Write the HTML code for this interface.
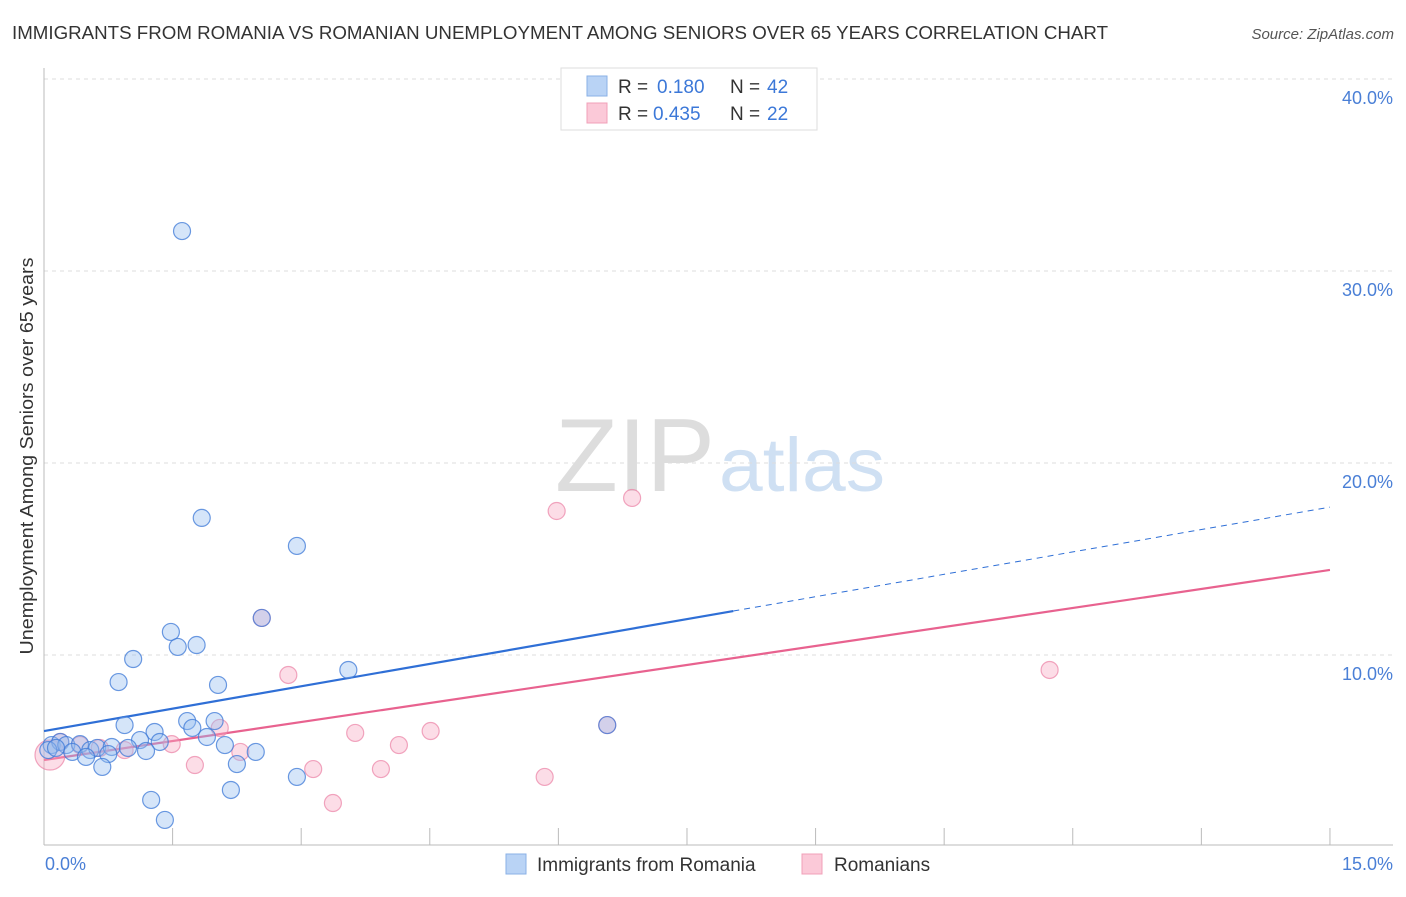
<!DOCTYPE html>
<html><head><meta charset="utf-8"><style>
body{margin:0;background:#fff;font-family:"Liberation Sans",sans-serif;}
svg text{font-family:"Liberation Sans",sans-serif;}
</style></head><body>
<svg id="c" width="1406" height="892">
<text x="12" y="39" font-size="18" fill="#333" textLength="1096" lengthAdjust="spacingAndGlyphs">IMMIGRANTS FROM ROMANIA VS ROMANIAN UNEMPLOYMENT AMONG SENIORS OVER 65 YEARS CORRELATION CHART</text>
<text x="1394" y="39" font-size="15" fill="#555" font-style="italic" text-anchor="end">Source: ZipAtlas.com</text>
<g>
<text x="555" y="491" font-size="104" fill="#ddd" font-family="Liberation Serif,serif" textLength="160" lengthAdjust="spacingAndGlyphs">ZIP</text>
<text x="719" y="491" font-size="76" fill="#cfe0f3" textLength="166" lengthAdjust="spacingAndGlyphs">atlas</text>
</g>
<g id="grid"></g>
<g id="axes"></g>
<g id="lines"></g>
<g id="pts"></g>
<text transform="translate(33,456) rotate(-90)" font-size="18" fill="#333" text-anchor="middle" textLength="397" lengthAdjust="spacingAndGlyphs">Unemployment Among Seniors over 65 years</text>
<text x="45" y="870" font-size="18" fill="#4a7fd6">0.0%</text>
<text x="1393" y="870" font-size="18" fill="#4a7fd6" text-anchor="end">15.0%</text>
<g>
<rect x="561" y="68" width="256" height="62" fill="#fff" stroke="#ddd"/>
<rect x="587" y="76" width="20" height="20" fill="#b9d3f5" stroke="#8ab0e6"/>
<rect x="587" y="103" width="20" height="20" fill="#fbc9d8" stroke="#f0a0b8"/>
<text x="618" y="93" font-size="19" fill="#333">R = </text><text x="657" y="93" font-size="19" fill="#3c78d8">0.180</text>
<text x="730" y="93" font-size="19" fill="#333">N = </text><text x="767" y="93" font-size="19" fill="#3c78d8">42</text>
<text x="618" y="120" font-size="19" fill="#333">R = </text><text x="653" y="120" font-size="19" fill="#3c78d8">0.435</text>
<text x="730" y="120" font-size="19" fill="#333">N = </text><text x="767" y="120" font-size="19" fill="#3c78d8">22</text>
</g>
<g>
<rect x="506" y="854" width="20" height="20" fill="#b9d3f5" stroke="#8ab0e6"/>
<text x="537" y="871" font-size="19" fill="#333">Immigrants from Romania</text>
<rect x="802" y="854" width="20" height="20" fill="#fbc9d8" stroke="#f0a0b8"/>
<text x="834" y="871" font-size="19" fill="#333">Romanians</text>
</g>
</svg>
<script>
const blueX=[1.61,1.84,2.95,1.48,1.56,1.78,1.04,0.87,2.03,3.55,0.94,1.67,1.99,1.29,1.73,1.90,1.12,2.11,1.35,2.47,0.09,0.19,0.26,0.42,0.33,0.54,0.62,0.79,0.98,1.19,0.49,0.75,0.68,2.25,2.95,2.18,1.25,1.41,2.54,6.57,0.05,0.14];
const blueY=[32.08,17.14,15.68,11.2,10.42,10.52,9.79,8.59,8.44,9.22,6.35,6.56,6.56,5.99,6.2,5.73,5.57,5.31,5.47,4.95,5.31,5.47,5.31,5.36,4.95,5.05,5.16,5.21,5.16,5.0,4.69,4.84,4.17,4.32,3.65,2.97,2.45,1.41,11.93,6.35,5.05,5.16];
const pinkX=[2.54,6.57,5.98,6.86,11.73,2.85,3.63,4.51,4.14,2.05,1.49,1.76,2.29,3.14,3.93,3.37,5.84,0.94,0.42,0.07,0.65,0.19];
const pinkY=[11.93,6.35,17.5,18.18,9.22,8.96,5.94,6.04,5.31,6.2,5.36,4.27,4.95,4.06,4.06,2.29,3.65,5.05,5.31,4.79,5.16,5.47];
const yTicks=[10,20,30,40];
const yTickLabels=["10.0%","20.0%","30.0%","40.0%"];
const xTicks=[0,1.5,3,4.5,6,7.5,9,10.5,12,13.5,15];
const blueTrend=[6.04,17.7];const blueSolidEnd=8.04;
const pinkTrend=[4.53,14.43];
const sx=v=>44+v*85.73, sy=v=>847-v*19.2;
const NS="http://www.w3.org/2000/svg";
function mk(p,t,a){const e=document.createElementNS(NS,t);for(const k in a)e.setAttribute(k,a[k]);document.getElementById(p).appendChild(e);return e;}
yTicks.forEach((t,i)=>{
 const l=mk('grid','line',{x1:44,x2:1393,y1:sy(t),y2:sy(t),stroke:'#ddd','stroke-dasharray':'4,4'});
 
 
 const tx=mk('grid','text',{x:1393,y:sy(t)+25,'font-size':18,fill:'#4a7fd6','text-anchor':'end'});tx.textContent=yTickLabels[i];
 
 
});
mk('axes','line',{x1:44,x2:44,y1:68,y2:845,stroke:'#bbb'});
mk('axes','line',{x1:44,x2:1393,y1:845,y2:845,stroke:'#bbb'});
xTicks.forEach(t=>{const l=mk('axes','line',{x1:sx(t),x2:sx(t),y1:828,y2:845,stroke:'#bbb'});
 
 });
const by=x=>blueTrend[0]+(blueTrend[1]-blueTrend[0])*x/15;
const b1=mk('lines','line',{x1:sx(0),y1:sy(by(0)),x2:sx(blueSolidEnd),y2:sy(by(blueSolidEnd)),stroke:'#2f6fd6','stroke-width':2.2});


const b2=mk('lines','line',{x1:sx(blueSolidEnd),y1:sy(by(blueSolidEnd)),x2:sx(15),y2:sy(by(15)),stroke:'#2f6fd6','stroke-width':1,'stroke-dasharray':'6,5'});


const p1=mk('lines','line',{x1:sx(0),y1:sy(pinkTrend[0]),x2:sx(15),y2:sy(pinkTrend[1]),stroke:'#e8628f','stroke-width':2.2});


pinkX.forEach((x,i)=>{const c=mk('pts','circle',{cx:sx(x),cy:sy(pinkY[i]),r:i==19?15:8.5,fill:'rgba(248,170,195,0.4)',stroke:'rgba(235,130,165,0.7)','stroke-width':1.2});
 
 });
blueX.forEach((x,i)=>{const c=mk('pts','circle',{cx:sx(x),cy:sy(blueY[i]),r:8.5,fill:'rgba(150,190,240,0.4)',stroke:'rgba(60,120,215,0.75)','stroke-width':1.2});
 
 });
</script>
</body></html>
